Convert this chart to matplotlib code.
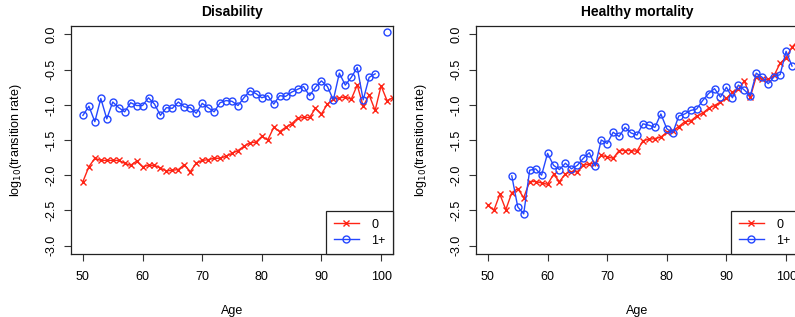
import numpy as np
import matplotlib
matplotlib.use("Agg")
import matplotlib.pyplot as plt

plt.rcParams['font.family'] = ['Liberation Sans', 'DejaVu Sans']

# ages
ages = np.arange(50, 103)

# Disability panel, log10 transition rates
dis_0 = [-2.09, -1.88, -1.76, -1.79, -1.79, -1.79, -1.79, -1.83, -1.86, -1.80,
         -1.88, -1.86, -1.86, -1.90, -1.94, -1.93, -1.92, -1.85, -1.95, -1.83,
         -1.79, -1.78, -1.76, -1.76, -1.73, -1.69, -1.65, -1.59, -1.54, -1.53,
         -1.45, -1.50, -1.32, -1.38, -1.32, -1.27, -1.19, -1.18, -1.18, -1.05,
         -1.13, -0.99, -0.92, -0.90, -0.89, -0.92, -0.72, -1.02, -0.86, -1.08,
         -0.73, -0.94, -0.90]
dis_1 = [-1.15, -1.02, -1.24, -0.91, -1.20, -0.96, -1.04, -1.10, -0.97, -1.01,
         -1.01, -0.90, -0.99, -1.15, -1.04, -1.05, -0.96, -1.03, -1.04, -1.12,
         -0.98, -1.04, -1.10, -0.97, -0.94, -0.95, -1.01, -0.90, -0.80, -0.84,
         -0.90, -0.87, -0.99, -0.87, -0.88, -0.82, -0.78, -0.74, -0.87, -0.75,
         -0.66, -0.74, -0.93, -0.55, -0.72, -0.61, -0.47, -0.93, -0.61, -0.56,
         np.nan, 0.03, np.nan]

# Healthy mortality panel
mort_0 = [-2.43, -2.50, -2.27, -2.49, -2.25, -2.19, -2.32, -2.09, -2.09, -2.11,
          -2.13, -1.99, -2.09, -1.98, -1.95, -1.95, -1.86, -1.84, -1.83, -1.72,
          -1.74, -1.76, -1.65, -1.65, -1.65, -1.66, -1.51, -1.49, -1.48, -1.46,
          -1.39, -1.37, -1.31, -1.24, -1.23, -1.16, -1.12, -1.05, -1.01, -0.96,
          -0.91, -0.82, -0.78, -0.66, -0.89, -0.60, -0.64, -0.64, -0.58, -0.41,
          -0.33, -0.18, -0.09]
mort_1 = [np.nan, np.nan, np.nan, np.nan,
          -2.01, -2.45, -2.55, -1.93, -1.91, -2.00,
          -1.69, -1.86, -1.92, -1.83, -1.91, -1.86, -1.76, -1.68, -1.87, -1.50,
          -1.55, -1.39, -1.45, -1.32, -1.40, -1.43, -1.27, -1.29, -1.32, -1.13,
          -1.34, -1.40, -1.16, -1.13, -1.08, -1.06, -0.94, -0.84, -0.77, -0.89,
          -0.75, -0.90, -0.72, -0.79, -0.87, -0.55, -0.61, -0.70, -0.60, -0.57,
          -0.24, -0.45, np.nan]

titles = ["Disability", "Healthy mortality"]
panels = [(dis_0, dis_1), (mort_0, mort_1)]
red = '#ff2415'
blue = '#2447ff'

fig = plt.figure(figsize=(7.95, 3.17), dpi=100)
lefts = [71 / 795, 476 / 795]

for left, title, (s0, s1) in zip(lefts, titles, panels):
    ax = fig.add_axes([left, 63 / 317, 322 / 795, 228 / 317])
    ax.plot(ages, s0, color=red, marker='x', ms=5, mew=1, lw=1, label='0')
    ax.plot(ages, s1, color=blue, marker='o', ms=5, mfc='none', mew=1,
            lw=1, label='1+')
    ax.set_xlim(48, 102)
    ax.set_ylim(-3.12, 0.12)
    ax.set_xticks(range(50, 101, 10))
    ax.set_yticks(np.arange(-3.0, 0.01, 0.5))
    ax.set_yticklabels([f"{v:.1f}" for v in np.arange(-3.0, 0.01, 0.5)],
                       rotation=90, va='center')
    ax.tick_params(direction='out', length=5, width=0.8, labelsize=9,
                   color='#333333')
    ax.tick_params(axis='x', pad=7)
    ax.tick_params(axis='y', pad=5)
    for sp in ax.spines.values():
        sp.set_linewidth(0.9)
        sp.set_color('#222222')
    ax.set_title(title, fontsize=10, fontweight='bold', pad=7)
    ax.set_xlabel('Age', fontsize=9, labelpad=16)
    ax.set_ylabel(r'log$_{10}$(transition rate)', fontsize=9, labelpad=15)
    leg = ax.legend(loc='lower right', borderaxespad=0, fancybox=False,
                    framealpha=1, edgecolor='#222222', fontsize=9,
                    handlelength=2.0, handletextpad=1.0, borderpad=0.6,
                    labelspacing=0.3)
    leg.get_frame().set_linewidth(0.9)

fig.savefig('out.png', dpi=100)
